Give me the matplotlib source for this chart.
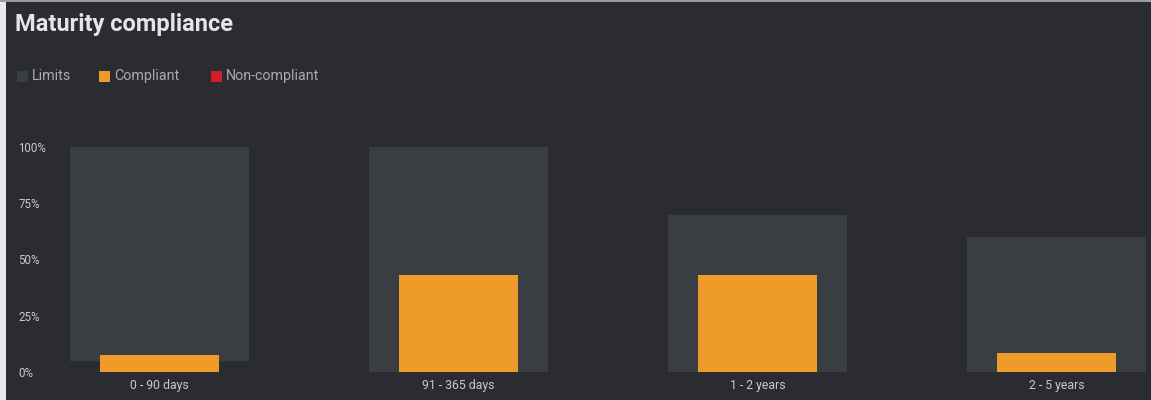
import numpy as np
import matplotlib.pyplot as plt
from matplotlib.patches import Rectangle

# maturity buckets
categories = ['0 - 90 days', '91 - 365 days', '1 - 2 years', '2 - 5 years']
# limit range per bucket (lower, upper), as fractions
limit_low = [0.05, 0.0, 0.0, 0.0]
limit_high = [1.00, 1.00, 0.70, 0.60]
# compliant share per bucket
compliant = [0.075, 0.43, 0.43, 0.085]
yticks = [0, 0.25, 0.5, 0.75, 1.0]
ytick_labels = ['0%', '25%', '50%', '75%', '100%']

BG = '#2a2c31'
LIMIT = '#3a3d41'
ORANGE = '#ef9b2a'
RED = '#d01f2b'
TEXT = '#c9cacc'

W, H = 1151, 400
fig = plt.figure(figsize=(W / 100, H / 100), dpi=100, facecolor=BG)
plt.rcParams['font.family'] = ['Roboto', 'DejaVu Sans']

# light edge on the left and top
fig.patches.append(Rectangle((0, 0), 6 / W, 1, transform=fig.transFigure,
                             facecolor='#e8e8ea', edgecolor='none', zorder=-1))
fig.patches.append(Rectangle((0, 1 - 2 / H), 1, 2 / H, transform=fig.transFigure,
                             facecolor='#9a9b9e', edgecolor='none', zorder=-1))

# plot area: 0% at y=372px, 100% at y=147px
ax = fig.add_axes([6 / W, (H - 372) / H, 1 - 6 / W, 225 / H])
ax.set_facecolor(BG)

x = np.arange(len(categories))
low = np.array(limit_low)
high = np.array(limit_high)
ax.bar(x, high - low, bottom=low, width=0.6, color=LIMIT, zorder=1)
ax.bar(x, compliant, width=0.4, color=ORANGE, zorder=2)

# band centers at 159.5px with 299px spacing
ax.set_xlim((6 - 159.5) / 299, (W - 159.5) / 299)
ax.set_ylim(0, 1)
ax.set_xticks(x)
ax.set_xticklabels(categories)
ax.set_yticks(yticks)
ax.set_yticklabels(ytick_labels)
ax.tick_params(axis='x', length=0, pad=5, labelsize=8.8, labelcolor=TEXT)
ax.tick_params(axis='y', length=0, pad=-9, labelsize=8.3, labelcolor=TEXT)
for lbl in ax.get_yticklabels():
    lbl.set_horizontalalignment('left')
for s in ax.spines.values():
    s.set_visible(False)

fig.text(15 / W, 1 - 25 / H, 'Maturity compliance', fontsize=17,
         fontweight='bold', color='#e4e5e7', va='center', ha='left')

# legend row
legend_items = [('Limits', LIMIT, 17), ('Compliant', ORANGE, 99), ('Non-compliant', RED, 211)]
for name, col, px in legend_items:
    fig.patches.append(Rectangle((px / W, 1 - 82 / H), 11 / W, 11 / H,
                                 transform=fig.transFigure, facecolor=col,
                                 edgecolor='none'))
    fig.text((px + 15) / W, 1 - 76 / H, name, fontsize=10.3, color='#a9abae',
             va='center', ha='left')

fig.savefig('out.png', dpi=100, facecolor=BG)
